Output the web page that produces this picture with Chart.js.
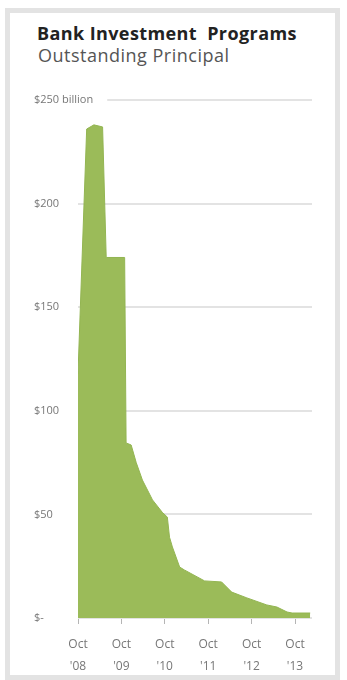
<!DOCTYPE html>
<html>
<head>
<meta charset="utf-8">
<script src="https://cdn.jsdelivr.net/npm/chart.js@4"></script>
<style>
  html, body { margin: 0; padding: 0; background: #fff; }
  body { width: 347px; height: 680px; position: relative; overflow: hidden; font-family: "Open Sans", sans-serif; }
  .frame { position: absolute; left: 5px; top: 8px; width: 325px; height: 662px; border: 5px solid #e3e3e3; }
  .title { position: absolute; left: 37px; top: 21px; font-size: 18px; font-weight: 700; color: #222; white-space: pre; letter-spacing: 0.4px; }
  .subtitle { position: absolute; left: 38px; top: 43px; font-size: 18px; color: #555; letter-spacing: 0.5px; }
  #wrap { position: absolute; left: 0; top: 0; width: 347px; height: 680px; }
</style>
</head>
<body>
<div class="frame"></div>
<div class="title">Bank Investment  Programs</div>
<div class="subtitle">Outstanding Principal</div>
<div id="wrap"><canvas id="bip-chart"></canvas></div>
<script>
  // months since Oct 2008, and outstanding principal ($ billion)
  const months = [0, 2.4, 4.4, 6.8, 7.8, 12.9, 13.3, 14.7, 16.1, 17.8, 20.6, 23.3, 24.7, 25.3, 26.1, 28.1, 29.4, 35, 39.7, 42.5, 46.7, 52.2, 55, 57.8, 59.2, 64.2];
  const principal = [118, 236, 238, 237, 174, 174, 84.5, 83.5, 75, 66.6, 57, 51, 48.7, 39, 34.3, 24.6, 23.2, 17.9, 17.4, 12.5, 9.7, 6.3, 5.3, 2.9, 2.4, 2.4];

  const xTickValues = [0, 12, 24, 36, 48, 60];
  const xTickLabels = [["Oct", "'08"], ["Oct", "'09"], ["Oct", "'10"], ["Oct", "'11"], ["Oct", "'12"], ["Oct", "'13"]];
  const yTickValues = [0, 50, 100, 150, 200, 250];
  const yTickLabels = ["$-", "$50", "$100", "$150", "$200", "$250 billion"];

  const ctx = document.getElementById("bip-chart").getContext("2d");

  new Chart(ctx, {
    type: 'line',
    data: {
      datasets: [{
        label: 'Outstanding Principal',
        data: months.map((m, i) => ({ x: m, y: principal[i] })),
        backgroundColor: '#9bbb59',
        borderColor: '#93b552',
        borderWidth: 1,
        fill: 'origin',
        tension: 0,
        pointRadius: 0
      }]
    },
    options: {
      responsive: true,
      maintainAspectRatio: false,
      animation: false,
      layout: { padding: { left: 35, right: 35, top: 100, bottom: 0 } },
      plugins: {
        legend: { display: false },
        tooltip: { enabled: false }
      },
      scales: {
        x: {
          type: 'linear',
          min: 0,
          max: 64.7,
          afterFit: scale => { scale.height = 62; },
          afterBuildTicks: scale => { scale.ticks = xTickValues.map(v => ({ value: v })); },
          border: { display: false },
          grid: { drawOnChartArea: false, drawTicks: true, tickLength: 6, color: '#b5b5b5', lineWidth: 1 },
          ticks: {
            autoSkip: false,
            maxRotation: 0,
            padding: 9,
            color: '#777',
            font: { family: 'Open Sans', size: 12, lineHeight: 1.85 },
            callback: value => {
              const i = xTickValues.indexOf(value);
              return i >= 0 ? xTickLabels[i] : '';
            }
          }
        },
        y: {
          min: 0,
          max: 250,
          afterFit: scale => { scale.width = 43; },
          afterBuildTicks: scale => { scale.ticks = yTickValues.map(v => ({ value: v })); },
          border: { display: false },
          grid: { drawTicks: false, color: '#e3e3e3', lineWidth: 2 },
          ticks: {
            mirror: true,
            crossAlign: 'near',
            padding: -44,
            color: '#777',
            font: { family: 'Open Sans', size: 11 },
            showLabelBackdrop: true,
            backdropColor: '#fff',
            backdropPadding: { left: 0, right: 14, top: 2, bottom: 2 },
            callback: value => {
              const i = yTickValues.indexOf(value);
              return i >= 0 ? yTickLabels[i] : '';
            }
          }
        }
      }
    }
  });
</script>
</body>
</html>
